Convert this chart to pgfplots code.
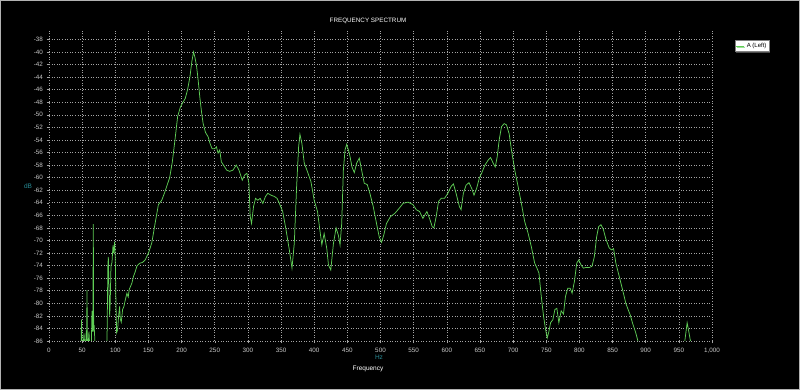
\documentclass[border=0pt]{standalone}
\usepackage{fontspec}
\setmainfont{Liberation Sans}
\usepackage{pgfplots}
\pgfplotsset{compat=1.18}
\usetikzlibrary{shadows}
\definecolor{gridc}{RGB}{165,165,165}
\definecolor{curve}{RGB}{95,205,85}
\definecolor{tealc}{RGB}{40,140,150}
\definecolor{tickc}{RGB}{200,200,200}

\pgfplotstableread{
x y
0 -100
47 -100
48.5 -86
49 -82.6
49.8 -86
50.5 -95
52 -86
52.8 -84.8
53.5 -86
54.5 -95
55.5 -86
56.2 -84.3
56.8 -86
57.3 -77.9
57.9 -86
58.5 -95
59.5 -86
60.3 -84.5
61 -86
62 -95
64 -86
64.8 -81.2
65.5 -84.5
66.2 -84
66.8 -67.4
67.4 -84.5
68.3 -84
69.2 -86
70 -95
86 -100
87.5 -86
88.8 -74
89.5 -72.6
90.5 -78
91.5 -82
92.3 -80
93.5 -74
95 -73.5
96.5 -70.8
97.5 -72
99 -70.2
100 -73
101 -80
102 -84.7
103.5 -84.2
105 -82
106.5 -80.5
107.5 -82.5
109 -83
111 -81
113 -80.5
115 -79.5
117.5 -78.4
119.5 -79
121 -77.8
123 -77.3
125 -76.8
127.5 -75.7
130 -75
132.5 -74.1
135 -73.8
137.5 -73.6
141 -73.5
145 -73.1
150 -72
155 -70.4
160 -67.3
165 -64.3
170 -63.6
174 -62.5
177.5 -61.4
182 -60
186 -57.5
190 -54
194 -50.3
198 -48.8
202 -48
205.5 -47.4
209 -46
212.5 -44
215.5 -41.5
218 -40
220 -40.8
222.5 -42.2
225 -44.5
227.5 -47.2
230 -49.5
232.5 -51.4
236 -52.8
240 -53.5
243 -54.6
246 -55.4
250 -55.4
252.5 -55.1
255 -56.1
257.5 -55.6
260 -57.5
265 -58.3
268 -58.8
272.5 -59
277.5 -58.8
282.5 -58
286.5 -58.8
291.5 -60.4
295 -59.6
298.5 -59.3
301.5 -60.9
303.5 -66.2
305.5 -67.3
308.5 -64.6
311.5 -63.3
315 -63.6
318.5 -63.3
322.5 -64.1
326.5 -63
330 -62.5
335 -62.8
340 -63
344 -63.3
347.5 -64.1
352.5 -65.4
357.5 -68.3
362.5 -71.5
366.5 -74.4
370 -70.4
373.5 -61.4
376.5 -55.1
378.5 -53.1
381.5 -54.6
385 -57.7
389 -58.8
395 -60.6
400 -63.6
405 -65.4
408.5 -68.3
411.5 -70.7
415 -68.9
419 -71.3
421.5 -73.9
425 -74.7
429 -70.5
433 -68
436.5 -69.2
439 -70.7
441.5 -67.3
444 -58.8
446.5 -55.6
449 -54.7
453 -56.1
457 -58.3
460.5 -59.2
464 -57.7
468 -56.9
471.5 -58.8
475.5 -60.9
480 -61.1
484 -62.5
489 -64.6
494 -67.3
498 -69.4
501.5 -70.3
505 -69.1
509 -67.3
515 -66.2
521.5 -65.7
528 -64.9
534 -64.1
541.5 -63.9
549 -64.3
554 -65.1
559 -65.4
564 -66.5
566.5 -66
570 -65.4
574 -66.5
578 -67.8
580.5 -68
584 -66.2
587.5 -63.8
591.5 -63.3
596.5 -63.3
601.5 -62.5
606.5 -61.4
610 -61
614 -62.5
619 -64.6
621.5 -65.1
625 -62.5
629 -61.2
633.5 -60.8
637.5 -61.7
641 -62.8
645 -61.7
649 -60.1
652.5 -59.3
657.5 -58
662.5 -57.2
666 -56.8
670 -57.7
673 -58.3
676 -56.7
679 -54
682.5 -51.9
686.5 -51.4
690 -51.6
694 -53
697.5 -55.6
702.5 -58.8
707.5 -61.4
712.5 -64.1
717.5 -67
722.5 -68.8
727.5 -71
732.5 -73.6
736 -74.4
739 -75.2
742.5 -78.9
746 -82.1
749 -84.2
751.5 -85.5
754 -84.5
756.5 -83.1
760 -82.6
763 -81
766 -80.8
769 -83.1
772.5 -81.2
776 -81.7
779 -78.9
782.5 -77.6
786 -77.6
789 -78.4
792.5 -76.5
796 -73.6
799 -73.1
802.5 -73.9
806 -74.4
810 -74.3
815 -74.3
819 -74.1
822.5 -72.6
826 -69.4
829 -67.8
832.5 -67.5
836 -68.2
840 -69.8
845 -71.2
848.5 -71.5
851.5 -71.3
855 -73.6
860 -75.7
865 -77.8
870 -80
873.5 -81
876.5 -81.8
880 -83.1
885 -84.7
889 -86.3
893 -95
955 -100
959 -86
962.5 -83.1
965 -84.5
967.5 -86
970 -95
1000 -100
}\spectrum

\begin{document}
\begin{tikzpicture}[x=1pt,y=1pt]
\fill[black] (0,0) rectangle (800,390);
\draw[gray!60, line width=1pt] (0.5,0.5) rectangle (799.5,389.5);
\begin{axis}[
  at={(49pt,49pt)}, anchor=south west,
  scale only axis, width=663pt, height=311pt,
  xmin=0, xmax=1000, ymin=-86, ymax=-36.5,
  xtick={0,50,...,1000}, ytick={-86,-84,...,-38},
  grid=major,
  grid style={gridc, line width=0.6pt, dash pattern=on 1pt off 1.6pt},
  axis line style={draw=none},
  tick style={gridc, line width=0.5pt},
  major tick length=2.5pt, tick align=outside, tick pos=left,
  ticklabel style={font=\fontsize{6.3}{7}\selectfont, text=tickc},
  xticklabel style={yshift=-1pt},
  /pgf/number format/assume math mode=true,
  /pgf/number format/1000 sep={,},
  legend style={at={(1,1)}, anchor=north west, xshift=23pt, yshift=-10pt,
    fill=white, draw=gray, text=black, font=\fontsize{6}{7}\selectfont,
    inner sep=0.8pt, row sep=0pt,
    drop shadow={opacity=0.6, shadow xshift=1pt, shadow yshift=-1pt}},
  legend image code/.code={\draw[curve, line width=0.8pt] (0pt,0pt) -- (8pt,0pt);},
]
\addplot[curve, line width=0.75pt] table[x=x, y=y] {\spectrum};
\addlegendentry{A (Left)}
\end{axis}
\node[white, font=\fontsize{6.3}{7}\selectfont] at (368,369) {FREQUENCY SPECTRUM};
\node[tealc, font=\fontsize{6.5}{7}\selectfont] at (28,204) {dB};
\node[tealc, font=\fontsize{6.5}{7}\selectfont] at (379,32.5) {Hz};
\node[white, font=\fontsize{6.5}{7}\selectfont] at (368,21) {Frequency};
\end{tikzpicture}
\end{document}
